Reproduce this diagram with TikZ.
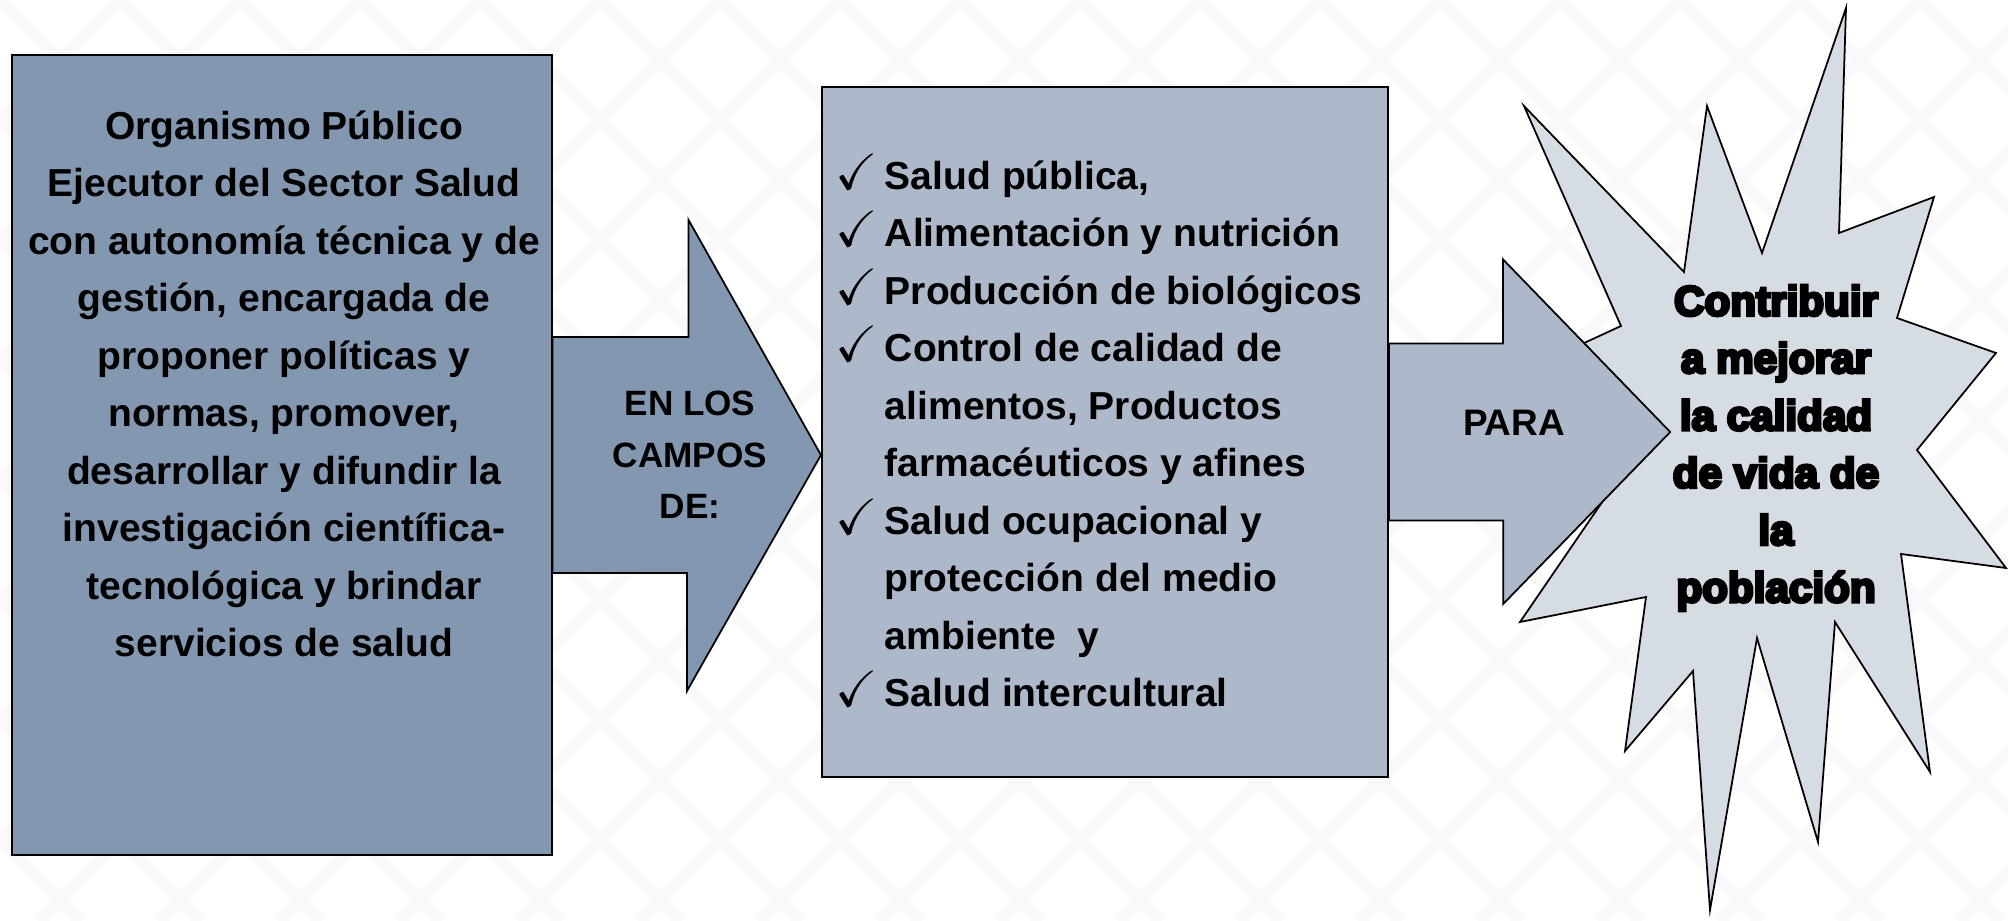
\documentclass[tikz,border=0pt]{standalone}
\usepackage{amssymb}
\usepackage{fontspec}
\setmainfont{Liberation Sans}
\newfontfamily\heavyfont[BoldFeatures={FakeBold=7}]{Liberation Sans}
\usetikzlibrary{positioning}
\definecolor{darkblue}{HTML}{8497B0}
\definecolor{midblue}{HTML}{ADB9CA}
\definecolor{lightblue}{HTML}{D6DCE4}
\newcommand{\chk}{\makebox[0.49cm][l]{\smash{\fontsize{14.5}{16}\selectfont$\checkmark$}}}
\newcommand{\nochk}{\hspace*{0.49cm}}

\begin{document}
\begin{tikzpicture}[x=0.01cm,y=-0.01cm,line width=0.5pt,
  orgbox/.style={draw,rectangle,inner sep=0pt,fill=darkblue},
  fieldbox/.style={draw,rectangle,inner sep=0pt,fill=midblue},
  bodytext/.style={font=\bfseries\fontsize{11.1}{16.35}\selectfont,align=center,inner sep=0pt},
  labeltext/.style={font=\bfseries\fontsize{10}{14.7}\selectfont,align=center,inner sep=0pt},
  goaltext/.style={font=\heavyfont\bfseries\fontsize{12}{16.3}\selectfont,align=center,inner sep=0pt},
  patline/.style={draw=black!2.2,line width=4pt}]

  \useasboundingbox (0,0) rectangle (2008,921);
  \begin{scope}
    \clip (0,0) rectangle (2008,921);
    \foreach \k in {-8,...,25} {
      \draw[patline] (\k*120,0) -- ++(921,921);
      \draw[patline] (\k*120,0) -- ++(-921,921);
    }
  \end{scope}

  \node[orgbox,minimum width=5.39cm,minimum height=8cm]  (org)    at (282,455)  {};
  \node[fieldbox,minimum width=5.66cm,minimum height=6.9cm] (fields) at (1105,432) {};

  \draw[fill=lightblue] (1846,8) -- (1839,233) -- (1934,197) -- (1897,318) -- (1996,353)
    -- (1917,450) -- (2006,568) -- (1901,554) -- (1930,772) -- (1835,622) -- (1818,842)
    -- (1757,638) -- (1710,910) -- (1693,671) -- (1625,751) -- (1646,597) -- (1520,622)
    -- (1620,476) -- (1480,391) -- (1621,326) -- (1524,106) -- (1684,272) -- (1707,106)
    -- (1762,253) -- cycle;

  \coordinate (tip1) at (org.east -| fields.west);
  \coordinate (tip2) at ([xshift=2.81cm]fields.east);

  \draw[fill=midblue] ([yshift=0.885cm]fields.east) -| ++(114,-84) -- (tip2)
    -- ++(-167,172) |- ([yshift=-0.885cm]fields.east) -- cycle;
  \draw[fill=darkblue] ([yshift=1.18cm]org.east) -| ++(136,-117) -- (tip1)
    -- ++(-134,236) |- ([yshift=-1.18cm]org.east) -- cycle;

  \node[bodytext] (orgtext) at (284,384) {Organismo Público\\Ejecutor del Sector Salud\\con autonomía técnica y de\\gestión, encargada de\\proponer políticas y\\normas, promover,\\desarrollar y difundir la\\investigación científica-\\tecnológica y brindar\\servicios de salud};
  \node[bodytext,align=left,anchor=west] (fieldtext) at (835,434) {\chk Salud pública,\\\chk Alimentación y nutrición\\\chk Producción de biológicos\\\chk Control de calidad de\\\nochk alimentos, Productos\\\nochk farmacéuticos y afines\\\chk Salud ocupacional y\\\nochk protección del medio\\\nochk ambiente\ \ y\\\chk Salud intercultural};
  \node[labeltext] (enlos) at (690,455) {EN LOS\\CAMPOS\\DE:};
  \node[labeltext,font=\bfseries\fontsize{10.5}{14}\selectfont] (para) at (1514,423) {PARA};
  \node[goaltext] (goal) at (1776,448) {Contribuir\\a mejorar\\la calidad\\de vida de\\la\\población};
\end{tikzpicture}
\end{document}
